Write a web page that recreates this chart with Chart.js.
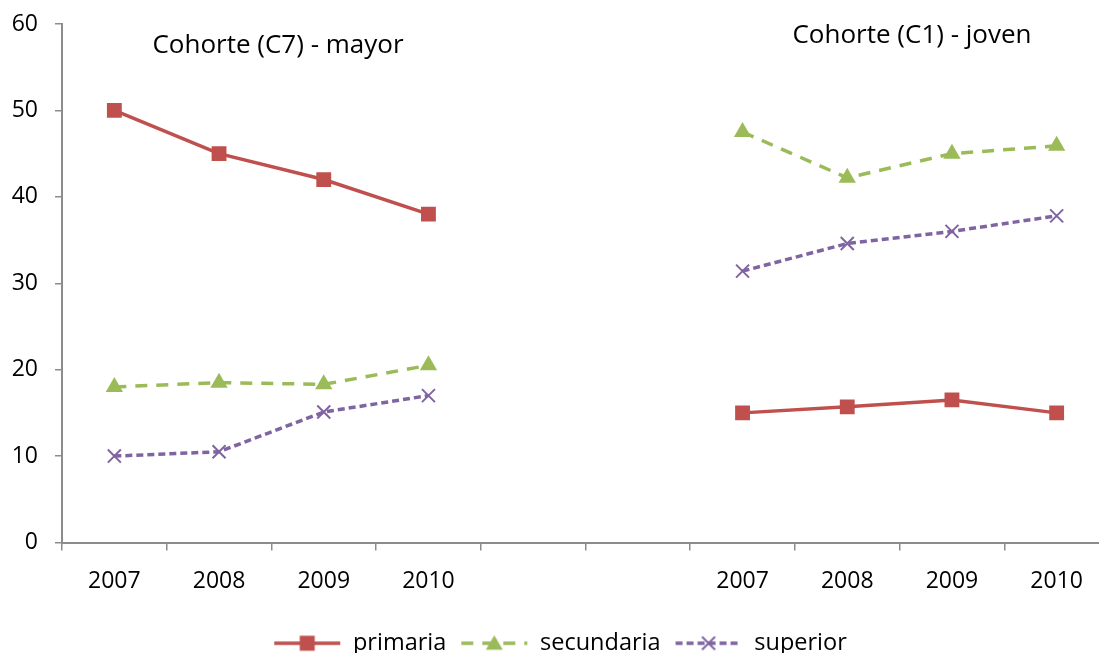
<!DOCTYPE html>
<html>
<head>
<meta charset="utf-8">
<script src="https://cdn.jsdelivr.net/npm/chart.js@4.4.1/dist/chart.umd.min.js"></script>
<style>
  html, body { margin: 0; padding: 0; background: #fff; overflow: hidden; }
  #wrap { width: 1099px; height: 653px; overflow: hidden; position: relative; }
  canvas { display: block; }
</style>
</head>
<body>
<div id="wrap"><canvas id="chart" width="1122" height="665"></canvas></div>
<script>
// Two cohorts, four years each, separated by two empty slots
const years = ['2007', '2008', '2009', '2010', '', '', '2007', '2008', '2009', '2010'];
const primaria   = [50, 45, 42, 38, null, null, 15, 15.7, 16.5, 15];
const secundaria = [18, 18.5, 18.3, 20.5, null, null, 47.5, 42.2, 45, 45.9];
const superior   = [10, 10.5, 15.1, 17, null, null, 31.4, 34.6, 36, 37.8];
const yTicks = [0, 10, 20, 30, 40, 50, 60];
const cohortTitles = ['Cohorte (C7) - mayor', 'Cohorte (C1) - joven'];

const FONT = '"Open Sans", Lato, sans-serif';
const TICK_SIZE = 23, LEGEND_SIZE = 23.5, TITLE_SIZE = 26;
const RED = '#C0504D', GREEN = '#9BBB59', PURPLE = '#8064A2', AXIS = '#8c8c8c';

// Legend swatch: a short line segment in the series' dash style with its marker
function swatch(color, dash, width, marker) {
  const c = document.createElement('canvas');
  c.width = 68; c.height = 20;
  const g = c.getContext('2d');
  g.strokeStyle = color; g.fillStyle = color;
  g.lineWidth = width; g.setLineDash(dash);
  g.beginPath(); g.moveTo(1, 10); g.lineTo(67, 10); g.stroke();
  g.setLineDash([]);
  const cx = 34, cy = 10;
  if (marker === 'rect') {
    g.fillRect(cx - 7.5, cy - 7.5, 15, 15);
  } else if (marker === 'triangle') {
    g.beginPath(); g.moveTo(cx, cy - 8); g.lineTo(cx + 8.5, cy + 6.5); g.lineTo(cx - 8.5, cy + 6.5); g.closePath(); g.fill();
  } else {
    g.lineWidth = 2;
    g.beginPath();
    g.moveTo(cx - 6.5, cy - 6.5); g.lineTo(cx + 6.5, cy + 6.5);
    g.moveTo(cx + 6.5, cy - 6.5); g.lineTo(cx - 6.5, cy + 6.5);
    g.stroke();
  }
  return c;
}
const swatches = [
  swatch(RED, [], 3.5, 'rect'),
  swatch(GREEN, [12, 9], 3.5, 'triangle'),
  swatch(PURPLE, [7, 4], 3.5, 'cross')
];

// Free-floating cohort captions above each group
const captionPlugin = {
  id: 'captions',
  afterDraw(chart) {
    const ctx = chart.ctx;
    ctx.save();
    ctx.font = TITLE_SIZE + 'px ' + FONT;
    ctx.fillStyle = '#000';
    ctx.textAlign = 'center';
    ctx.textBaseline = 'alphabetic';
    ctx.fillText(cohortTitles[0], 278, 53);
    ctx.fillText(cohortTitles[1], 912, 43);
    ctx.restore();
  }
};

new Chart(document.getElementById('chart'), {
  type: 'line',
  data: {
    labels: years,
    datasets: [
      {
        label: 'primaria', data: primaria,
        borderColor: RED, backgroundColor: RED, borderWidth: 3.5,
        pointStyle: 'rect', pointRadius: 10.5, pointBorderWidth: 0,
        pointBackgroundColor: RED, spanGaps: false
      },
      {
        label: 'secundaria', data: secundaria,
        borderColor: GREEN, backgroundColor: GREEN, borderWidth: 3.5, borderDash: [12, 9],
        pointStyle: 'triangle', pointRadius: 10, pointBorderWidth: 0,
        pointBackgroundColor: GREEN, spanGaps: false
      },
      {
        label: 'superior', data: superior,
        borderColor: PURPLE, backgroundColor: PURPLE, borderWidth: 3.5, borderDash: [7, 4],
        pointStyle: 'crossRot', pointRadius: 9.2, pointBorderWidth: 2,
        pointBorderColor: PURPLE, spanGaps: false
      }
    ]
  },
  options: {
    responsive: false,
    animation: false,
    layout: { padding: { top: 24, right: 13, left: 11, bottom: 0 } },
    plugins: {
      tooltip: { enabled: false },
      legend: {
        position: 'bottom',
        labels: {
          font: { family: FONT, size: LEGEND_SIZE },
          color: '#000',
          usePointStyle: true,
          pointStyleWidth: 68,
          boxHeight: 20,
          padding: 14,
          generateLabels(chart) {
            return chart.data.datasets.map((ds, i) => ({
              text: ds.label,
              pointStyle: swatches[i],
              fillStyle: ds.borderColor,
              strokeStyle: ds.borderColor,
              lineWidth: 0,
              hidden: false,
              datasetIndex: i
            }));
          }
        }
      }
    },
    scales: {
      x: {
        offset: true,
        afterFit(scale) { scale.height = 75; },
        grid: { display: true, offset: true, drawOnChartArea: false, drawTicks: true, tickLength: 8, color: AXIS, lineWidth: 1.5 },
        border: { display: true, color: AXIS, width: 2 },
        ticks: { font: { family: FONT, size: TICK_SIZE }, color: '#000', padding: 17, maxRotation: 0, autoSkip: false }
      },
      y: {
        min: 0, max: 60,
        afterFit(scale) { scale.width = 51; scale.paddingTop = 0; scale.paddingBottom = 0; },
        afterBuildTicks(scale) { scale.ticks = yTicks.map(v => ({ value: v })); },
        grid: { display: true, drawOnChartArea: false, drawTicks: true, tickLength: 7, color: AXIS, lineWidth: 1.5 },
        border: { display: true, color: AXIS, width: 2 },
        ticks: { font: { family: FONT, size: TICK_SIZE }, color: '#000', padding: 17 }
      }
    }
  },
  plugins: [captionPlugin]
});
</script>
</body>
</html>
